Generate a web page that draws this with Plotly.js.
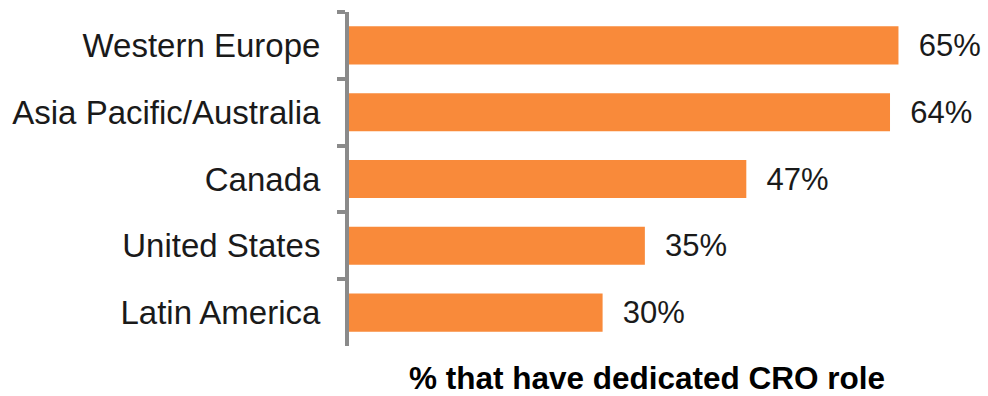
<!DOCTYPE html>
<html>
<head>
<meta charset="utf-8">
<script src="https://cdn.plot.ly/plotly-3.0.1.min.js"></script>
<style>html,body{margin:0;padding:0;background:#fff;}#chart{width:988px;height:396px;}</style>
</head>
<body>
<div id="chart"></div>
<script>
const regions = ["Western Europe", "Asia Pacific/Australia", "Canada", "United States", "Latin America"];
const shares = [65, 64, 47, 35, 30];
const valueLabels = ["65%", "64%", "47%", "35%", "30%"];
const axisTitle = "% that have dedicated CRO role";

const font = "'Liberation Sans', Arial, sans-serif";

const trace = {
  type: 'bar',
  orientation: 'h',
  y: regions,
  x: shares,
  text: valueLabels,
  texttemplate: '\u00a0\u00a0%{text}',
  textposition: 'outside',
  cliponaxis: false,
  textfont: {family: font, size: 31, color: '#1a1a1a'},
  marker: {color: '#F98A3A'},
  width: 0.57,
  hoverinfo: 'skip'
};

const layout = {
  width: 988, height: 396,
  margin: {l: 349, r: 5, t: 12, b: 50},
  paper_bgcolor: '#fff', plot_bgcolor: '#fff',
  showlegend: false,
  xaxis: {range: [0, 75], showgrid: false, zeroline: false, showline: false, showticklabels: false, ticks: ''},
  yaxis: {
    autorange: 'reversed',
    showline: true, linecolor: '#8a8a8a', linewidth: 4,
    ticks: 'outside', tickson: 'boundaries', ticklen: 8, tickwidth: 4, tickcolor: '#8a8a8a',
    showgrid: false, zeroline: false,
    tickfont: {family: font, size: 33, color: '#1a1a1a'},
    ticklabelstandoff: 18
  },
  annotations: [{
    text: axisTitle, xref: 'paper', yref: 'paper', x: 0.47, y: 0, yshift: -32,
    xanchor: 'center', yanchor: 'middle', showarrow: false,
    font: {family: font, size: 31.5, color: '#000', weight: 'bold'}
  }]
};

Plotly.newPlot('chart', [trace], layout, {displayModeBar: false, staticPlot: true});
</script>
</body>
</html>
